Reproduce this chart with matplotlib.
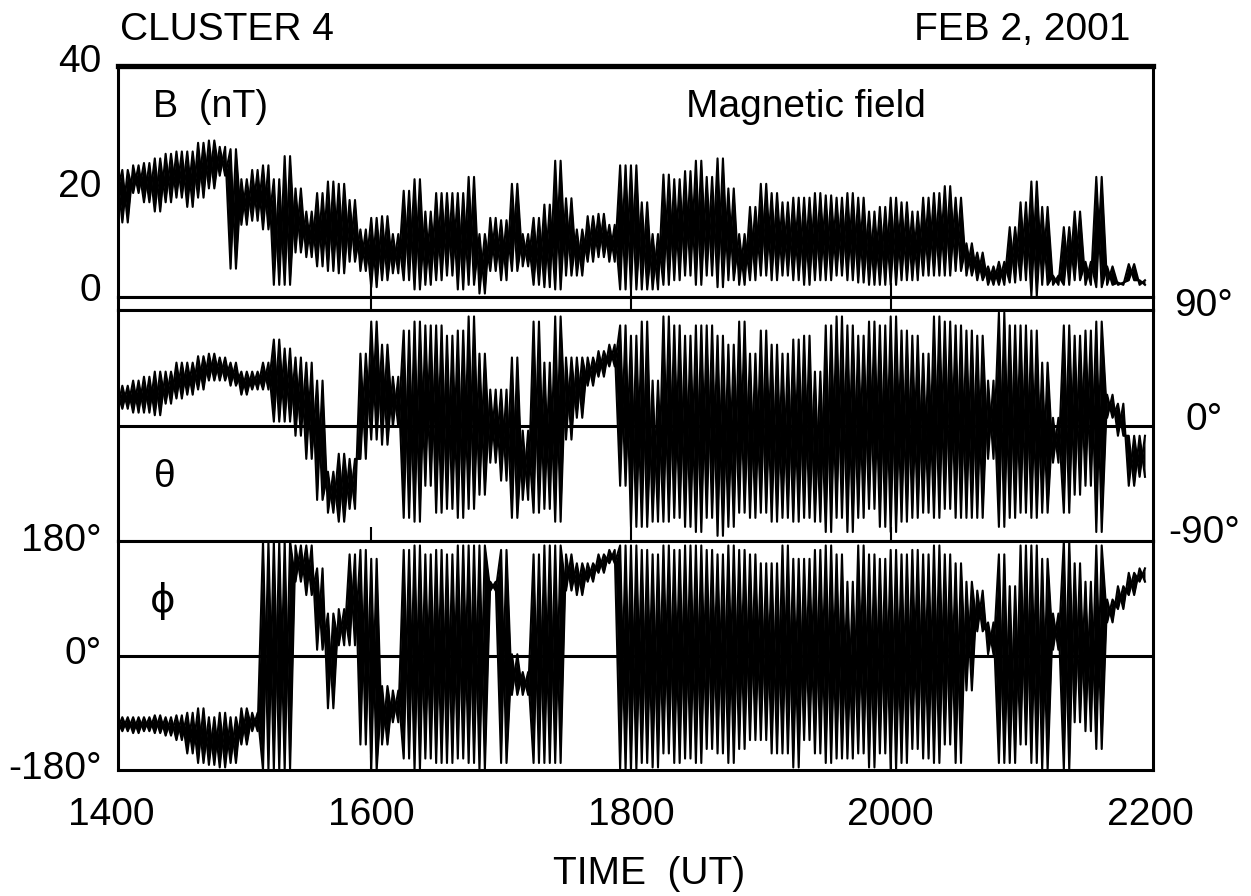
import numpy as np
import matplotlib
matplotlib.use("Agg")
import matplotlib.pyplot as plt

plt.rcParams['font.family'] = ['Liberation Sans', 'DejaVu Sans']

# 5-minute bins starting at 14:00 UT, min/max of each bin
bin_minutes = np.arange(0, 480, 5)

b_hi = [22.4, 22.0, 22.8, 23.2, 24.0, 24.8, 25.2, 25.2, 26.7, 27.1, 26.0, 25.6, 20.4, 22.0, 22.8, 20.4,
        24.4, 18.8, 14.8, 18.0, 20.0, 19.6, 16.8, 11.7, 13.7, 14.0, 10.9, 18.4, 20.4, 14.8, 18.0, 18.0,
        18.0, 20.8, 10.9, 13.7, 13.3, 19.6, 10.9, 13.7, 16.0, 23.6, 17.1, 11.7, 14.0, 14.4, 12.5, 22.8,
        22.8, 16.4, 10.9, 21.2, 20.4, 21.8, 23.6, 20.8, 24.0, 18.8, 10.9, 15.6, 19.6, 18.0, 16.4, 17.2,
        17.2, 18.0, 17.6, 17.2, 18.0, 17.2, 14.8, 15.6, 17.2, 16.4, 14.8, 17.2, 18.0, 19.2, 17.2, 9.3,
        7.7, 5.3, 6.1, 12.1, 16.4, 20.0, 15.6, 3.7, 12.1, 14.8, 6.1, 20.8, 5.3, 2.5, 5.7, 2.9]
b_lo = [18.0, 12.9, 18.0, 16.4, 14.8, 16.4, 17.2, 15.6, 17.2, 18.8, 21.0, 4.9, 12.5, 13.2, 11.7, 2.1,
        2.1, 7.7, 6.9, 5.3, 4.5, 4.1, 6.1, 4.5, 1.7, 2.9, 4.1, 2.9, 1.3, 2.1, 2.9, 3.7,
        1.3, 2.1, 0.6, 4.5, 2.9, 4.5, 5.3, 2.1, 1.7, 1.3, 3.7, 3.7, 6.1, 6.9, 6.1, 1.3,
        1.3, 1.3, 1.3, 2.1, 2.9, 3.7, 2.1, 3.7, 1.7, 2.9, 2.1, 2.9, 3.7, 2.9, 3.7, 2.9,
        2.1, 2.9, 2.9, 3.7, 2.9, 2.5, 2.1, 2.1, 2.1, 2.9, 2.9, 3.7, 3.7, 3.7, 4.5, 3.7,
        2.9, 2.1, 2.1, 2.5, 2.9, 0.2, 2.1, 2.1, 2.1, 2.9, 2.1, 1.7, 2.1, 2.1, 2.9, 2.1]

theta_hi = [28, 31, 35, 38, 42, 42, 49, 49, 54, 56, 53, 49, 42, 42, 49, 67,
            60, 53, 49, 35, -36, -22, -26, 56, 81, 63, 38, 74, 81, 78, 78, 70,
            74, 85, 56, 28, 28, 53, -4, 81, 49, 85, 53, 53, 53, 58, 63, 78,
            70, 81, 35, 85, 78, 70, 78, 78, 70, 63, 81, 56, 74, 63, 56, 67,
            70, 42, 78, 85, 78, 70, 81, 78, 85, 74, 70, 56, 85, 81, 78, 74,
            70, 35, 88, 78, 78, 74, 49, 6, 78, 70, 74, 81, 24, 17, -8, -8]
theta_lo = [10, 13, 10, 10, 8, 17, 21, 24, 28, 35, 35, 31, 24, 28, 28, 3,
            3, -8, -26, -58, -68, -75, -65, -26, -11, -15, -1, -72, -75, -47, -68, -65,
            -72, -65, -54, -29, -43, -72, -58, -68, -65, -75, -11, 6, 31, 38, 46, -47,
            -79, -79, -75, -75, -72, -79, -83, -72, -86, -79, -68, -72, -68, -75, -72, -75,
            -72, -75, -83, -72, -83, -72, -65, -79, -83, -75, -72, -68, -72, -65, -72, -72,
            -72, -26, -79, -72, -68, -72, -68, -29, -68, -54, -47, -83, 6, -8, -47, -40]

phi_hi = [-101, -97, -97, -97, -94, -97, -94, -90, -83, -97, -90, -97, -83, -90, 180, 180,
          180, 173, 173, 137, 66, 73, 159, 166, 152, -48, -55, 166, 173, 159, 166, 159,
          173, 173, 173, 116, 166, 2, -26, 159, 173, 173, 159, 145, 145, 159, 166, 173,
          173, 166, 159, 173, 166, 173, 173, 166, 159, 173, 166, 159, 145, 145, 173, 152,
          152, 166, 173, 159, 116, 173, 159, 152, 166, 159, 166, 159, 173, 159, 145, 116,
          102, 52, 159, 109, 173, 173, 152, 66, 180, 145, 116, 173, 88, 109, 130, 137]
phi_lo = [-119, -119, -122, -119, -122, -126, -133, -154, -169, -172, -176, -169, -140, -119, -180, -180,
          -180, 116, 95, 9, -83, 16, 16, -140, -180, -140, -105, -162, -180, -162, -169, -169,
          -162, -169, -180, 102, -169, -62, -62, -169, -169, -169, 102, 95, 116, 130, 145, -180,
          -180, -169, -176, -154, -169, -162, -169, -147, -154, -169, -147, -133, -133, -154, -154, -176,
          -133, -154, -169, -162, -162, -154, -176, -154, -180, -169, -147, -162, -169, -140, -169, -55,
          38, 2, -169, -169, -140, -169, -180, 9, -180, -105, -119, -147, 52, 73, 95, 116]

x_ticks = [14, 16, 18, 20, 22]
x_tick_labels = ["1400", "1600", "1800", "2000", "2200"]
b_ticks = [40, 20, 0]
b_tick_labels = ["40", "20", "0"]
theta_ticks = [90, 0, -90]
theta_tick_labels = ["90°", "0°", "-90°"]
phi_ticks = [180, 0, -180]
phi_tick_labels = ["180°", "0°", "-180°"]

W, H = 1251, 896
fig = plt.figure(figsize=(W / 100, H / 100), dpi=100)


def px_axes(x0, y0, x1, y1):
    return fig.add_axes([x0 / W, 1 - y1 / H, (x1 - x0) / W, (y1 - y0) / H])


def trace(ax, lo, hi):
    # two opposite zigzags through the bin extremes; the area between them is filled
    t = 14 + np.column_stack([bin_minutes, bin_minutes + 2.5]).ravel() / 60.0
    up = np.column_stack([lo, hi]).ravel()
    down = np.column_stack([hi, lo]).ravel()
    ax.fill_between(t, up, down, color='black', lw=0, zorder=2)
    ax.plot(t, up, color='black', lw=1.5, zorder=2)
    ax.plot(t, down, color='black', lw=1.5, zorder=2)


ax_b = px_axes(118, 66, 1153, 297)
ax_gap = px_axes(118, 297, 1153, 310)
ax_th = px_axes(118, 310, 1153, 541)
ax_ph = px_axes(118, 541, 1153, 770)

for ax in (ax_b, ax_gap, ax_th, ax_ph):
    ax.set_xlim(14.05, 22.02)
    ax.set_yticks([])
    ax.set_xticks([16, 18, 20])
    ax.tick_params(axis='x', direction='in', length=10, width=1.5, labelbottom=False)
    for s in ax.spines.values():
        s.set_linewidth(2.2)
        s.set_zorder(5)
ax_b.spines['top'].set_linewidth(3.8)
ax_gap.tick_params(axis='x', length=9.4)
ax_gap.set_ylim(0, 1)

ax_b.set_ylim(0, 40)
ax_th.set_ylim(-90, 90)
ax_ph.set_ylim(-180, 180)

for ax in (ax_th, ax_ph):
    ax.axhline(0, color='black', lw=2.2, zorder=1)

trace(ax_b, b_lo, b_hi)
trace(ax_th, theta_lo, theta_hi)
trace(ax_ph, phi_lo, phi_hi)

fs = 28
# tick labels drawn as text, nudged a few pixels (points) vertically
ax_left = [(ax_b, b_ticks, b_tick_labels, [3, -4, 4]),
           (ax_ph, phi_ticks, phi_tick_labels, [0, 1, 1])]
for ax, ticks, labels, nudge in ax_left:
    for y, lab, dy in zip(ticks, labels, nudge):
        ax.annotate(lab, (-0.016, y), xycoords=ax.get_yaxis_transform(),
                    xytext=(0, dy), textcoords='offset points',
                    ha='right', va='center', fontsize=fs, annotation_clip=False)
for y, lab, dy in zip(theta_ticks, theta_tick_labels, [3, 4, 6]):
    ax_th.annotate(lab, (1.049, y), xycoords=ax_th.get_yaxis_transform(),
                   xytext=(0, dy), textcoords='offset points',
                   ha='center', va='center', fontsize=fs, annotation_clip=False)

for x, lab in zip(x_ticks, x_tick_labels):
    ax_ph.text(x, -0.12, lab, transform=ax_ph.get_xaxis_transform(), ha='center', va='top',
               fontsize=fs, clip_on=False)

fig.text(649 / W, 1 - 884 / H, "TIME  (UT)", ha='center', va='baseline', fontsize=fs)
fig.text(120 / W, 1 - 40 / H, "CLUSTER 4", ha='left', va='baseline', fontsize=fs)
fig.text(1130 / W, 1 - 40 / H, "FEB 2, 2001", ha='right', va='baseline', fontsize=fs)
fig.text(153 / W, 1 - 117 / H, "B  (nT)", ha='left', va='baseline', fontsize=27)
fig.text(686 / W, 1 - 117 / H, "Magnetic field", ha='left', va='baseline', fontsize=28)
fig.text(165 / W, 1 - 477 / H, "θ", ha='center', va='center', fontsize=28)
fig.text(163 / W, 1 - 601 / H, "ϕ", ha='center', va='center', fontsize=28,
         family=['DejaVu Sans'])

fig.savefig("out.png", dpi=100, facecolor='white')
